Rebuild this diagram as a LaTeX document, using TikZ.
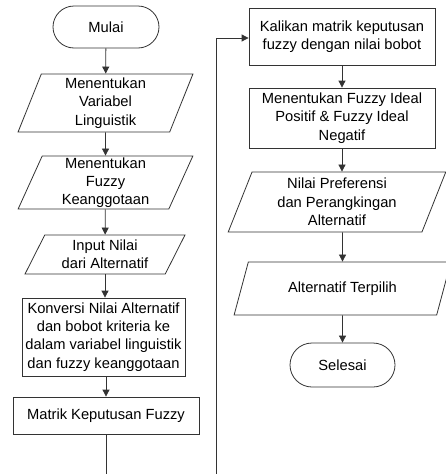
\documentclass[tikz,border=0pt]{standalone}
\usepackage{fontspec}
\setmainfont{Liberation Sans}
\usetikzlibrary{arrows.meta,shapes.geometric,shapes.misc}

\begin{document}
\begin{tikzpicture}[
  x=1pt,
  y=-1pt,
  base/.style={
    draw=black!80,
    line width=0.8pt,
    align=center,
    inner sep=1pt,
    font=\fontsize{14.7}{18.3}\selectfont
  },
  term/.style={base, rounded rectangle, minimum width=108pt, minimum height=42pt},
  proc/.style={base, rectangle, minimum width=186pt},
  io/.style={base, trapezium, trapezium stretches=true,
    trapezium left angle=72, trapezium right angle=108},
  flow/.style={->, line width=0.8pt, draw=black!80},
  >={Triangle[length=7pt,width=7pt]}
]
\useasboundingbox (0,0) rectangle (445,474);

% left column
\node[term] (mulai) at (106,27) {Mulai};
\node[io, minimum width=175pt, minimum height=58pt,
  trapezium left angle=74, trapezium right angle=106] (varling) at (105.5,103)
  {Menentukan\\Variabel\\Linguistik};
\node[io, minimum width=175pt, minimum height=53pt] (fuzang) at (105.5,182.5)
  {Menentukan\\Fuzzy\\Keanggotaan};
\node[io, minimum width=160pt, minimum height=39pt,
  trapezium left angle=65, trapezium right angle=115] (input) at (105,254.5)
  {Input Nilai\\dari Alternatif};
\node[proc, minimum width=163pt, minimum height=78pt] (konversi) at (103.5,337)
  {Konversi Nilai Alternatif\\dan bobot kriteria ke\\dalam variabel linguistik\\dan fuzzy keanggotaan};
\node[proc, minimum height=37pt] (matrik) at (106,415.5) {Matrik Keputusan Fuzzy};
\coordinate (keluar) at (106,474);

% right column
\coordinate (masuk) at (216,474);
\node[proc, minimum height=57pt] (kalikan) at (342,36.5)
  {Kalikan matrik keputusan\\fuzzy dengan nilai bobot};
\node[proc, minimum height=60pt] (ideal) at (342,118)
  {Menentukan Fuzzy Ideal\\Positif \& Fuzzy Ideal\\Negatif};
\node[io, minimum width=218pt, minimum height=60pt,
  trapezium left angle=71, trapezium right angle=109] (preferensi) at (337,202)
  {Nilai Preferensi\\dan Perangkingan\\Alternatif};
\node[io, minimum width=217pt, minimum height=53pt,
  trapezium left angle=62, trapezium right angle=118] (terpilih) at (342.5,288.5)
  {Alternatif Terpilih};
\node[term, minimum width=107pt, minimum height=44pt] (selesai) at (342.5,365) {Selesai};

\draw[flow] (mulai) -- (varling);
\draw[flow] (varling) -- (fuzang);
\draw[flow] (fuzang) -- (input);
\draw[flow] (input.south) -- (input.south |- konversi.north);
\draw[flow] (konversi.south -| matrik) -- (matrik);
\draw[line width=0.8pt, draw=black!80] (matrik) -- (keluar);

\draw[flow] (masuk) |- ([yshift=-1.5pt]kalikan.west);
\draw[flow] (kalikan) -- (ideal);
\draw[flow] (ideal.south) -- (ideal.south |- preferensi.north);
\draw[flow] (preferensi.south -| terpilih) -- (terpilih);
\draw[flow] (terpilih) -- (selesai);
\end{tikzpicture}
\end{document}
